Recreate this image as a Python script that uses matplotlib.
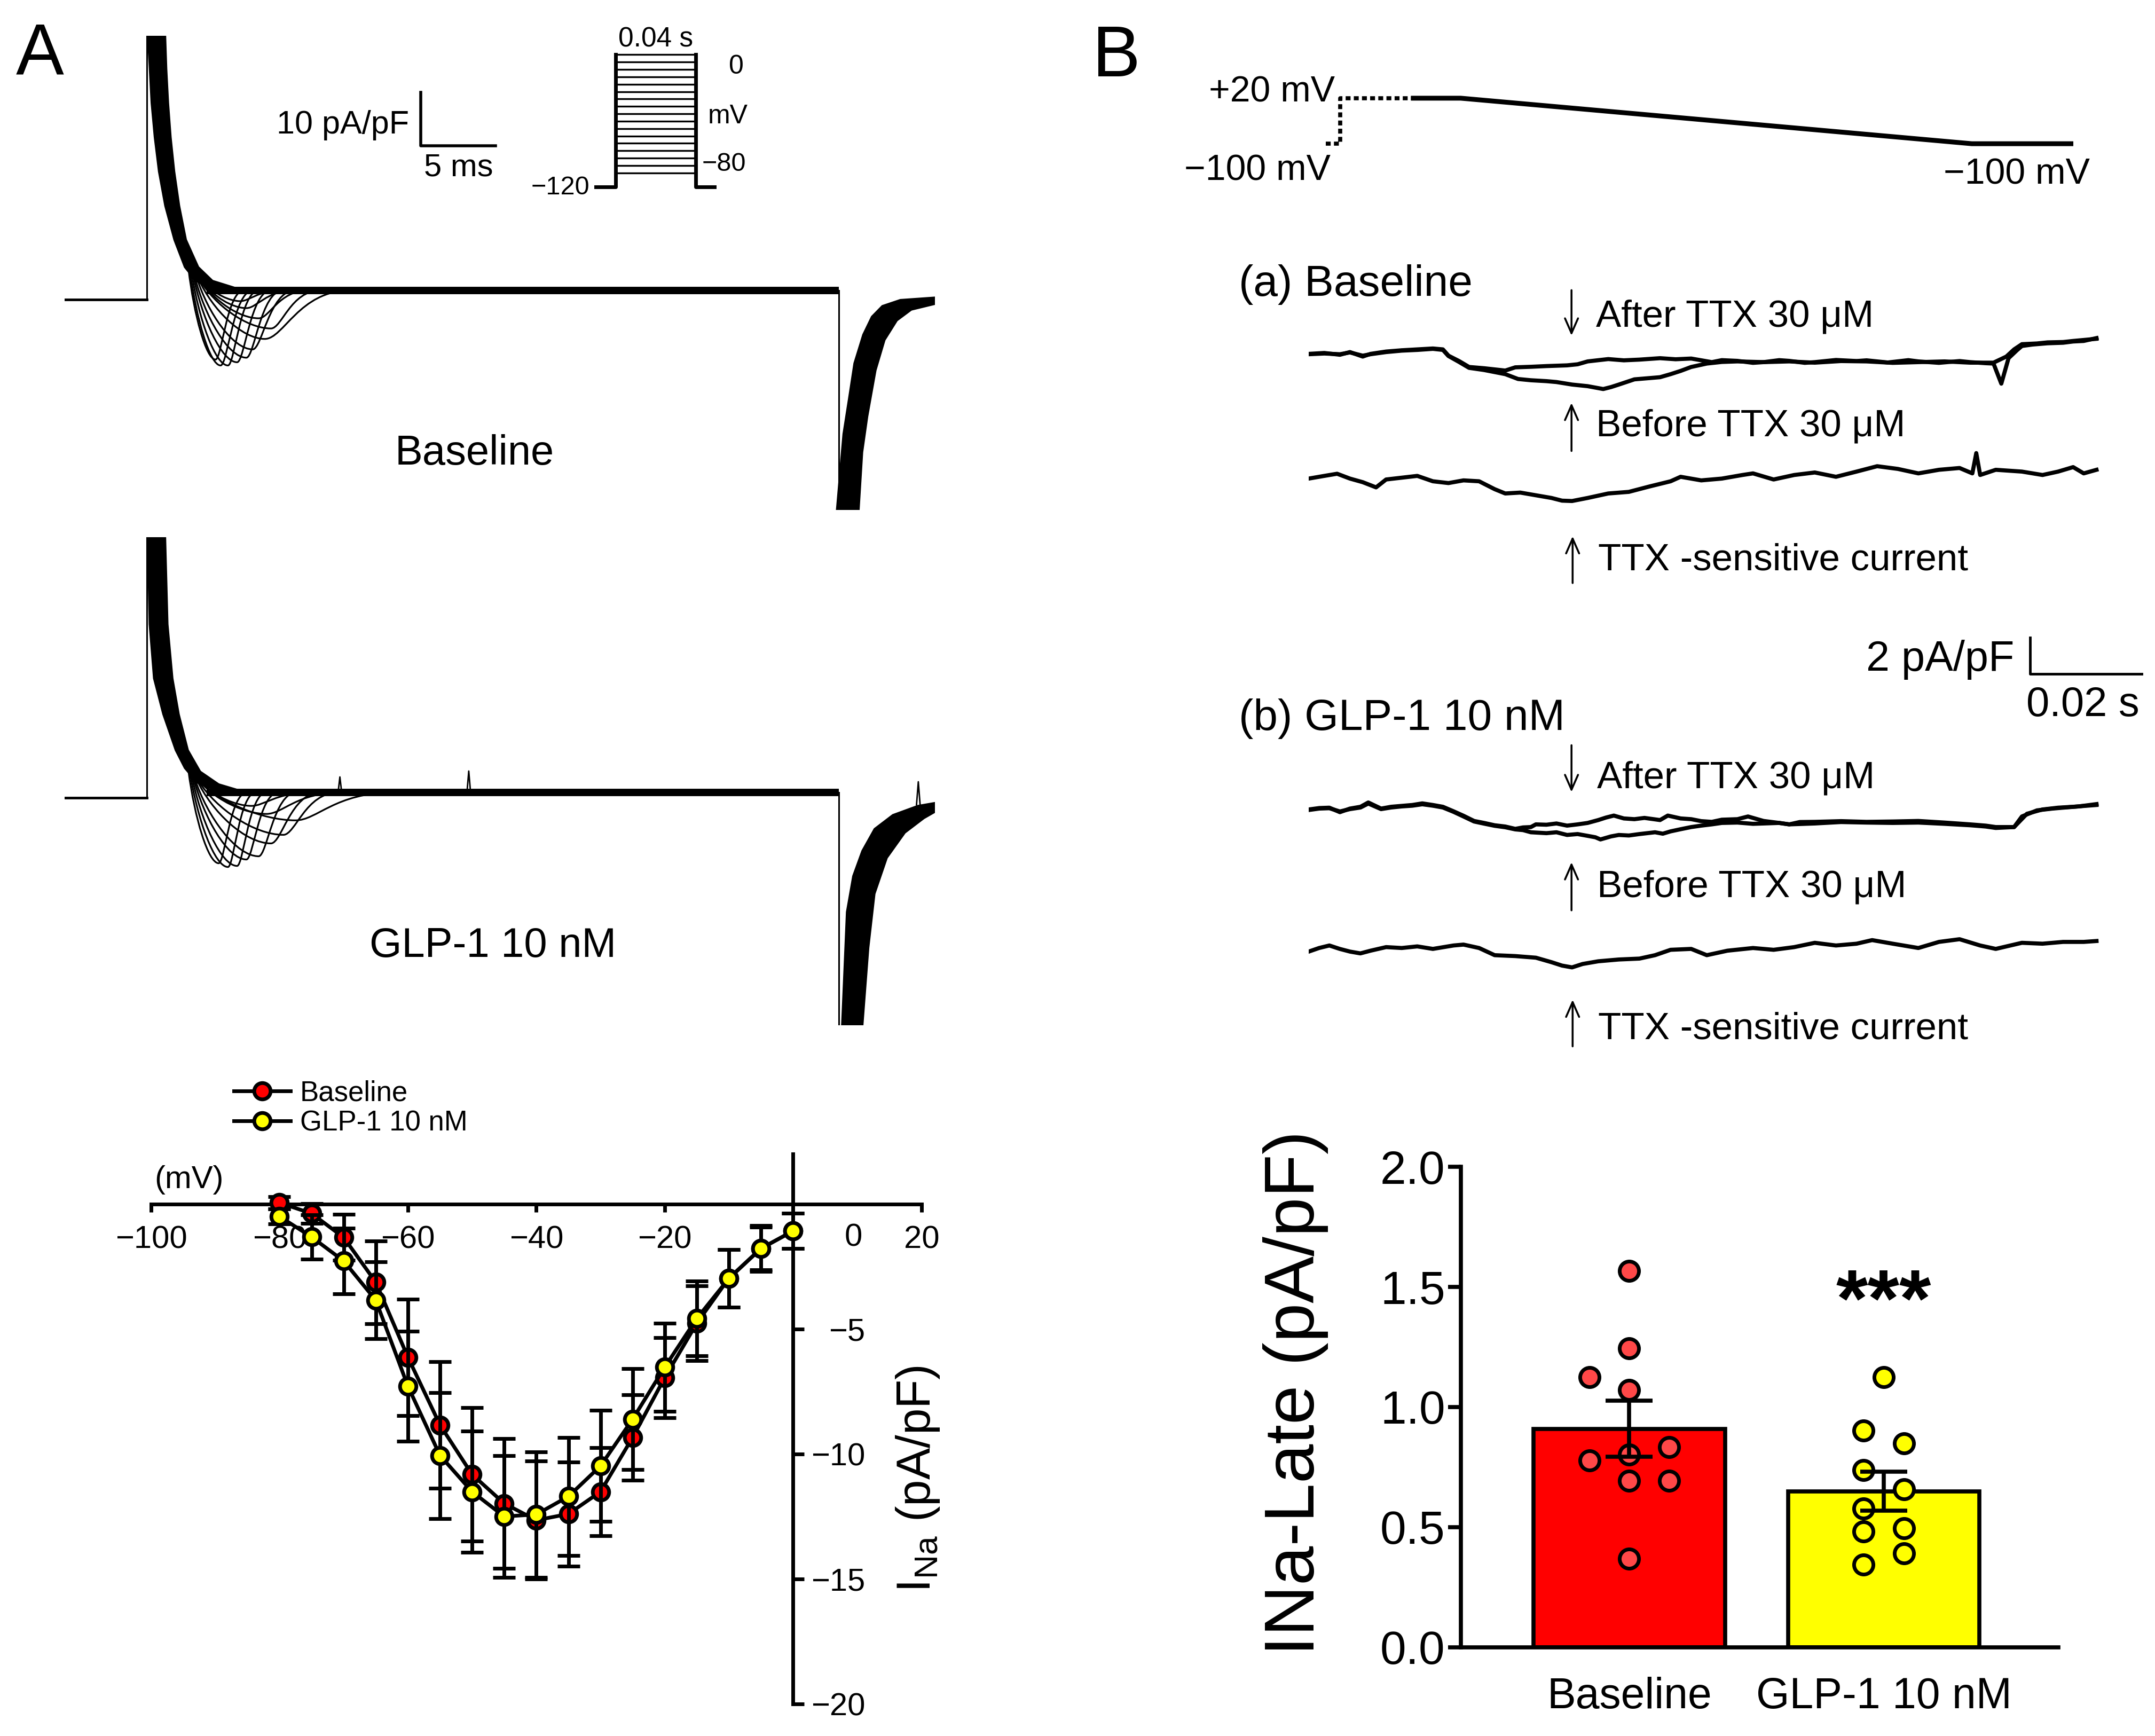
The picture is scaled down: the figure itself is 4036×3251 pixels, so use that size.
import numpy as np
import matplotlib
matplotlib.use("Agg")
import matplotlib.pyplot as plt
from matplotlib.path import Path
from matplotlib.patches import PathPatch
from matplotlib.lines import Line2D

plt.rcParams['font.family'] = ['Liberation Sans', 'DejaVu Sans']
plt.rcParams['mathtext.fontset'] = 'custom'
plt.rcParams['mathtext.rm'] = 'Liberation Sans'
plt.rcParams['mathtext.it'] = 'Liberation Sans:italic'

RED = '#ff0000'
YEL = '#ffff00'
DOT_RED = '#ff4848'

################################################################################
# Data
################################################################################

# --- A: step family (time in ms from step onset, current in pA/pF) ---
STEP_END = 46.2
base_hold = -1.7
base_band_t = [0.08, 0.21, 0.33, 0.54, 0.82, 1.24, 1.85, 2.55, 3.29, 4.6,
               6.46, 4.40, 3.45, 2.63, 2.18, 1.85, 1.61, 1.44, 1.32, 1.24]
base_band_i = [48.0, 41.4, 35.0, 28.6, 22.2, 15.8, 9.46, 4.36, 1.8, 0.0,
               0.0, 1.8, 4.36, 9.46, 15.8, 22.2, 28.6, 35.0, 41.4, 48.0]
base_dep_t = [2.8, 2.9, 3.0, 3.1, 3.2, 3.35, 3.5, 3.6, 3.75, 3.9, 4.1]
base_dep_i = [3.9, 3.6, 3.3, 3.0, 2.7, 2.4, 2.0, 1.8, 1.5, 1.2, 0.9]
base_pk_t = [4.6, 4.94, 5.43, 6.04, 6.66, 7.08, 7.89, 8.3, 7.48, 6.66, 6.25]
base_pk_i = [-12.9, -14.0, -14.0, -13.4, -12.55, -11.0, -9.05, -7.1, -5.2, -3.3, -2.0]
base_ret_t = [6.5, 7.1, 7.5, 8.3, 9.1, 9.9, 13.6, 11.6, 10.8, 9.9, 9.1]
base_tail_t = [46.03, 46.5, 46.87, 47.23, 47.82, 48.4, 49.1, 50.3, 52.8,
               52.8, 51.03, 50.07, 49.25, 48.65, 48.1, 47.76, 47.5]
base_tail_i = [-42.0, -26.8, -20.2, -13.6, -8.26, -4.9, -2.9, -1.77, -1.28,
               -2.4, -3.6, -5.6, -9.25, -14.9, -23.5, -30.2, -42.0]

glp_hold = -1.0
glp_band_t = [0.08, 0.2, 0.49, 1.11, 1.94, 2.55, 3.37, 5.02,
              6.66, 4.81, 3.58, 2.76, 2.15, 1.73, 1.4, 1.24]
glp_band_i = [48.0, 31.4, 21.3, 14.6, 7.9, 4.56, 1.87, 0.0,
              0.0, 1.54, 3.9, 7.9, 14.6, 21.3, 31.4, 48.0]
glp_dep_t = [2.8, 2.9, 3.0, 3.1, 3.2, 3.35, 3.5, 3.65, 3.8, 4.0]
glp_dep_i = [3.9, 3.6, 3.3, 3.0, 2.7, 2.4, 2.0, 1.7, 1.4, 1.1]
glp_pk_t = [4.81, 5.43, 6.04, 6.66, 7.48, 8.3, 9.13, 9.94, 8.0, 7.0]
glp_pk_i = [-13.2, -13.9, -13.7, -12.5, -11.9, -9.5, -7.9, -5.2, -4.0, -2.5]
glp_ret_t = [6.7, 7.3, 8.0, 8.8, 10.0, 11.6, 12.8, 16.5, 13.0, 11.0]
glp_tail_t = [46.4, 46.73, 47.15, 47.76, 48.58, 49.8, 51.46, 52.9,
              52.9, 51.87, 50.6, 49.4, 48.58, 48.17, 47.76]
glp_tail_i = [-44.0, -22.3, -15.6, -10.9, -6.8, -4.2, -2.5, -1.8,
              -3.15, -4.8, -7.5, -12.2, -18.9, -28.97, -44.0]
glp_spike_t = [12.9, 21.5, 51.5]
glp_spike_base = [0.0, 0.0, -2.3]
glp_spike_i = [2.9, 4.0, 2.0]

# --- A: voltage protocol (mV, ms) ---
step_levels = [-80, -75, -70, -65, -60, -55, -50, -45, -40, -35,
               -30, -25, -20, -15, -10, -5, 0]
step_on, step_off = 0, 40
hold_from, hold_to = -9.9, 49.5
HOLD_DRAW = -89.3  # -120 mV holding, drawn compressed

# --- A: I-V relation ---
iv_mv = [-80, -75, -70, -65, -60, -55, -50, -45, -40, -35,
         -30, -25, -20, -15, -10, -5, 0]
iv_base = [0.05, -0.38, -1.34, -3.13, -6.13, -8.84, -10.82, -11.98, -12.65,
           -12.40, -11.51, -9.34, -6.95, -4.77, -2.97, -1.78, -1.08]
iv_base_sem = [0.25, 0.40, 0.92, 1.66, 2.33, 2.53, 2.67, 2.60, 2.36,
               2.08, 1.77, 1.70, 1.61, 1.50, 1.15, 0.85, 0.71]
iv_glp = [-0.50, -1.32, -2.28, -3.85, -7.29, -10.06, -11.51, -12.50, -12.42,
          -11.70, -10.48, -8.61, -6.53, -4.58, -2.98, -1.78, -1.08]
iv_glp_sem = [0.30, 0.88, 1.31, 1.54, 2.20, 2.52, 2.43, 2.43, 2.51,
              2.36, 2.22, 2.02, 1.77, 1.49, 1.15, 0.92, 0.71]

# --- B: ramp protocol (ms, mV) ---
ramp_dot_t = [3.1, 5.7, 5.7, 18.5]
ramp_dot_v = [-100, -100, 20, 20]
ramp_t = [18.8, 27.3, 119.1, 136.9]
ramp_v = [20, 20, -100, -100]

# --- B: late current traces (ms, pA/pF relative to start) ---
a_after_t = [0, 2.8, 5.6, 7.4, 9.7, 11.1, 13.9, 16.7, 19.5, 22.3, 24.1, 25.1, 27.0, 28.8,
             31.5, 35.3, 37.1, 39.9, 42.7, 46.4, 48.3, 50.1, 53.8, 56.6, 59.4, 63.1, 65.9,
             68.7, 72.4, 74.2, 77.0, 79.8, 81.7, 84.5, 86.3, 89.1, 90.9, 94.7, 98.4, 100.2,
             104.0, 107.7, 109.5, 113.2, 116.9, 118.8, 121.6, 123.0, 124.4, 125.7, 127.2,
             128.1, 130.0, 132.7, 135.5, 137.3, 139.2, 141.5]
a_after_i = [-0.10, -0.05, -0.15, 0.0, -0.25, -0.10, 0.03, 0.10, 0.15, 0.20, 0.15, -0.20,
             -0.50, -0.83, -0.90, -1.03, -0.85, -0.82, -0.78, -0.74, -0.68, -0.52, -0.39,
             -0.46, -0.42, -0.34, -0.40, -0.36, -0.56, -0.45, -0.49, -0.60, -0.56, -0.45,
             -0.49, -0.60, -0.56, -0.44, -0.50, -0.46, -0.58, -0.45, -0.52, -0.60, -0.50,
             -0.56, -0.62, -0.64, -1.76, -0.34, 0.10, 0.34, 0.42, 0.49, 0.52, 0.59, 0.62, 0.78]
a_before_t = [0, 2.8, 5.6, 7.4, 9.7, 11.1, 13.9, 16.7, 19.5, 22.3, 24.1, 25.1, 27.0, 28.8,
              31.5, 35.3, 37.6, 39.9, 42.7, 44.5, 47.3, 50.1, 52.9, 54.3, 55.7, 58.5, 61.2,
              63.1, 65.0, 66.8, 68.7, 71.5, 74.2, 77.0, 81.7, 86.3, 90.9, 95.6, 100.2, 104.9,
              109.5, 114.2, 118.8, 123.0, 125.3, 126.7, 128.1, 130.8, 132.7, 135.5, 137.3, 141.5]
a_before_i = [-0.12, -0.08, -0.12, -0.02, -0.20, -0.12, 0.0, 0.08, 0.12, 0.18, 0.12, -0.22,
              -0.55, -0.88, -1.00, -1.23, -1.50, -1.57, -1.62, -1.67, -1.81, -1.90, -2.06,
              -1.95, -1.81, -1.52, -1.45, -1.40, -1.23, -1.05, -0.83, -0.64, -0.55, -0.52,
              -0.56, -0.52, -0.59, -0.50, -0.52, -0.60, -0.56, -0.52, -0.59, -0.59, -0.25,
              0.15, 0.44, 0.48, 0.54, 0.56, 0.62, 0.74]
a_ttx_t = [0, 2.8, 5.1, 7.4, 9.7, 12.1, 13.9, 16.7, 19.5, 22.3, 25.1, 27.8, 30.6, 33.4,
           35.3, 38.0, 40.8, 43.6, 45.5, 47.3, 50.1, 53.8, 57.5, 61.2, 65.0, 66.8, 70.5,
           74.2, 77.9, 79.8, 83.5, 87.2, 90.9, 94.7, 98.4, 102.1, 105.8, 109.5, 113.2,
           116.9, 119.2, 119.9, 120.6, 123.4, 128.1, 131.8, 134.6, 137.3, 139.2, 141.5]
a_ttx_i = [0, 0.15, 0.27, 0, -0.20, -0.49, -0.05, 0.05, 0.15, -0.15, -0.25, -0.10, -0.15,
           -0.59, -0.83, -0.78, -0.93, -1.08, -1.23, -1.25, -1.08, -0.83, -0.74, -0.44,
           -0.15, 0.10, -0.10, 0, 0.20, 0.29, -0.05, 0.20, 0.34, 0.10, 0.39, 0.69, 0.54,
           0.29, 0.49, 0.59, 0.29, 1.42, 0.20, 0.49, 0.39, 0.20, 0.39, 0.64, 0.29, 0.49]

b_after_t = [0, 1.9, 3.7, 5.6, 7.4, 9.3, 10.7, 13.0, 14.8, 16.7, 18.6, 20.4, 22.3, 24.1,
             26.0, 27.8, 29.7, 31.5, 33.4, 35.3, 37.1, 38.5, 39.9, 40.8, 42.7, 44.5, 46.4,
             48.3, 50.1, 52.0, 53.4, 54.8, 56.6, 58.5, 60.3, 63.1, 64.5, 66.8, 68.7, 70.5,
             72.4, 74.2, 77.0, 78.9, 81.7, 84.5, 86.3, 88.2, 90.9, 95.6, 100.2, 104.9,
             109.5, 114.2, 118.8, 121.6, 123.4, 126.7, 128.1, 130.8, 133.6, 135.5, 138.3, 141.5]
b_after_i = [-0.05, 0.03, 0.05, -0.20, 0.0, 0.10, 0.34, 0.0, 0.10, 0.15, 0.20, 0.29, 0.20,
             0.10, -0.15, -0.40, -0.69, -0.80, -0.93, -1.00, -1.13, -1.05, -1.03, -0.88,
             -0.90, -0.83, -0.95, -0.88, -0.80, -0.64, -0.50, -0.39, -0.55, -0.59, -0.52,
             -0.64, -0.39, -0.55, -0.59, -0.70, -0.74, -0.62, -0.59, -0.44, -0.69, -0.80,
             -0.88, -0.75, -0.74, -0.70, -0.74, -0.72, -0.69, -0.78, -0.88, -0.95, -1.03,
             -1.03, -0.44, -0.10, 0.0, 0.05, 0.12, 0.25]
b_before_t = [0, 1.9, 3.7, 5.6, 7.4, 9.3, 10.7, 13.0, 14.8, 16.7, 18.6, 20.4, 22.3, 24.1,
              26.0, 27.8, 29.7, 31.5, 33.4, 35.3, 37.1, 38.5, 39.9, 42.7, 44.5, 46.4, 48.3,
              50.1, 51.5, 52.4, 54.3, 55.7, 57.5, 59.4, 62.2, 63.6, 65.0, 66.8, 68.7, 70.5,
              72.4, 74.2, 77.0, 79.8, 81.7, 84.5, 86.3, 90.9, 95.6, 100.2, 104.9, 109.5,
              114.2, 118.8, 121.6, 123.4, 126.7, 129.0, 131.8, 134.6, 137.3, 141.5]
b_before_i = [-0.08, 0.0, 0.02, -0.16, -0.03, 0.06, 0.28, -0.03, 0.06, 0.12, 0.16, 0.24,
              0.16, 0.06, -0.18, -0.44, -0.72, -0.84, -0.96, -1.04, -1.16, -1.20, -1.32,
              -1.37, -1.32, -1.47, -1.42, -1.52, -1.60, -1.72, -1.55, -1.47, -1.50, -1.42,
              -1.32, -1.40, -1.27, -1.15, -1.03, -0.95, -0.88, -0.80, -0.78, -0.85, -0.83,
              -0.80, -0.88, -0.83, -0.75, -0.78, -0.80, -0.78, -0.85, -0.93, -1.00, -1.08,
              -1.03, -0.29, -0.05, 0.05, 0.10, 0.20]
b_ttx_t = [0, 1.86, 3.71, 5.57, 7.42, 9.28, 11.1, 13.9, 16.7, 19.5, 22.3, 26.0, 27.8,
           30.6, 33.4, 37.1, 40.8, 43.6, 45.5, 47.3, 49.2, 52.0, 55.7, 59.4, 62.2, 65.0,
           68.7, 71.5, 75.2, 79.8, 83.5, 87.2, 90.9, 94.7, 98.4, 101.2, 104.9, 109.5,
           113.2, 116.9, 120.6, 123.4, 128.1, 131.8, 135.5, 139.2, 141.5]
b_ttx_i = [0, 0.20, 0.34, 0.15, 0, -0.10, 0.05, 0.25, 0.20, 0.29, 0.15, 0.34, 0.39, 0.20,
           -0.20, -0.25, -0.34, -0.59, -0.78, -0.88, -0.69, -0.54, -0.44, -0.39, -0.20,
           0.10, 0.15, -0.20, 0.05, 0.20, 0.10, 0.25, 0.49, 0.34, 0.44, 0.64, 0.44, 0.20,
           0.54, 0.69, 0.34, 0.15, 0.49, 0.44, 0.54, 0.54, 0.59]

# --- B: late sodium current summary ---
late_groups = ['Baseline', 'GLP-1 10 nM']
late_mean = [0.909, 0.649]
late_sem = [0.117, 0.081]
late_base_pts = [1.567, 1.244, 1.125, 1.071, 0.833, 0.777, 0.802, 0.692, 0.692, 0.369]
late_glp_pts = [1.125, 0.901, 0.848, 0.7375, 0.658, 0.578, 0.4826, 0.496, 0.391, 0.343]
late_sig = '***'

################################################################################
# Layout helpers (positions measured on a 1568 x 1262.5 view of the figure)
################################################################################
VW, VH = 1568.0, 1262.5

def rect(x0, y0, x1, y1):
    return [x0 / VW, 1 - y1 / VH, (x1 - x0) / VW, (y1 - y0) / VH]

def fpt(x, y):
    return x / VW, 1 - y / VH

fig = plt.figure(figsize=(40.37, 32.51), dpi=100)

################################################################################
# Panel A: step families
################################################################################
def dip_path(t0, i0, tp, ip, tr):
    d1 = tp - t0
    d2 = tr - tp
    verts = [(t0, i0), (t0 + 0.2 * d1, i0 + 0.5 * (ip - i0)), (tp - 0.35 * d1, ip), (tp, ip),
             (tp + 0.22 * d2, ip), (tp + 0.4 * d2, 0.0), (tr, 0.0)]
    codes = [Path.MOVETO] + [Path.CURVE4] * 6
    return Path(verts, codes)

def draw_family(ax, hold, band_t, band_i, dep_t, dep_i, pk_t, pk_i, ret_t, tail_t, tail_i):
    lo, hi = ax.get_ylim()
    x0 = ax.get_xlim()[0]
    ax.plot([x0, 0], [hold, hold], color='k', lw=3.5)
    ax.plot([0, 0], [hold, hi + 2], color='k', lw=2.2)
    ax.fill(band_t, band_i, color='k', lw=2.5)
    ax.plot([4.0, STEP_END], [0, 0], color='k', lw=10, solid_capstyle='butt')
    ax.plot([STEP_END, STEP_END], [0, lo - 2], color='k', lw=2.2)
    ax.fill(tail_t, tail_i, color='k', lw=2.5)
    for k in range(len(pk_t)):
        p = dip_path(dep_t[k], dep_i[k], pk_t[k], pk_i[k], ret_t[k])
        ax.add_patch(PathPatch(p, fill=False, ec='k', lw=2.3))

ax_a1 = fig.add_axes(rect(47, 26.1, 680, 371))
ax_a1.set_xlim(-5.47, 52.6)
ax_a1.set_ylim(-41, 47.5)
ax_a1.axis('off')
draw_family(ax_a1, base_hold, base_band_t, base_band_i, base_dep_t, base_dep_i,
            base_pk_t, base_pk_i, base_ret_t, base_tail_t, base_tail_i)
# scale bar 10 pA/pF, 5 ms
ax_a1.plot([18.3, 18.3, 23.3], [37.0, 27.0, 27.0], color='k', lw=4)
ax_a1.text(17.5, 30.8, '10 pA/pF', ha='right', va='center', fontsize=44)
ax_a1.text(20.8, 22.9, '5 ms', ha='center', va='center', fontsize=43)
ax_a1.text(21.9, -30.5, 'Baseline', ha='center', va='center', fontsize=56)

ax_a2 = fig.add_axes(rect(47, 390.8, 680, 745.5))
ax_a2.set_xlim(-5.47, 52.6)
ax_a2.set_ylim(-43.4, 47.6)
ax_a2.axis('off')
draw_family(ax_a2, glp_hold, glp_band_t, glp_band_i, glp_dep_t, glp_dep_i,
            glp_pk_t, glp_pk_i, glp_ret_t, glp_tail_t, glp_tail_i)
for t, b, p in zip(glp_spike_t, glp_spike_base, glp_spike_i):
    ax_a2.plot([t - 0.12, t, t + 0.12], [b, p, b], color='k', lw=2)
ax_a2.text(23.1, -28.6, 'GLP-1 10 nM', ha='center', va='center', fontsize=56)

# protocol inset
ax_ap = fig.add_axes(rect(420, 30, 530, 145))
ax_ap.set_xlim(-19.3, 56.6)
ax_ap.set_ylim(-97.9, 9.1)
ax_ap.axis('off')
for v in step_levels:
    ax_ap.plot([step_on, step_off], [v, v], color='k', lw=2.4)
ax_ap.plot([hold_from, step_on, step_on], [HOLD_DRAW, HOLD_DRAW, 0], color='k', lw=5)
ax_ap.plot([step_off, step_off, hold_to], [0, HOLD_DRAW, HOLD_DRAW], color='k', lw=5)
ax_ap.text(20, 10.4, '0.04 s', ha='center', va='center', fontsize=37)
ax_ap.text(56.6, -8.2, '0', ha='left', va='center', fontsize=36)
ax_ap.text(46.2, -41.8, 'mV', ha='left', va='center', fontsize=36)
ax_ap.text(43.2, -74.2, '\u221280', ha='left', va='center', fontsize=35)
ax_ap.text(-13.1, -89.9, '\u2212120', ha='right', va='center', fontsize=35)

################################################################################
# Panel A: I-V curve
################################################################################
ax_iv = fig.add_axes([0.0701, 0.01846, 0.3574, 0.3168])
ax_iv.set_xlim(-100, 20)
ax_iv.set_ylim(-20, 2)
iv_style = dict(fmt='-o', color='k', lw=5, ms=22, mec='k', mew=5, ecolor='k',
                elinewidth=5, capsize=15, capthick=5, clip_on=False)
ax_iv.errorbar(iv_mv, iv_base, yerr=iv_base_sem, mfc=RED, zorder=3, **iv_style)
ax_iv.errorbar(iv_mv, iv_glp, yerr=iv_glp_sem, mfc=YEL, zorder=4, **iv_style)
for s in ['left', 'top']:
    ax_iv.spines[s].set_visible(False)
ax_iv.spines['bottom'].set_position(('data', 0))
ax_iv.spines['right'].set_position(('data', 0))
for s in ['bottom', 'right']:
    ax_iv.spines[s].set_linewidth(5)
ax_iv.yaxis.set_ticks_position('right')
ax_iv.set_xticks([-100, -80, -60, -40, -20, 0, 20])
ax_iv.set_xticklabels(['\u2212100', '\u221280', '\u221260', '\u221240', '\u221220', '', '20'])
ax_iv.set_yticks([-20, -15, -10, -5])
ax_iv.set_yticklabels(['\u221220', '\u221215', '\u221210', '\u22125'])
ax_iv.tick_params(axis='x', direction='out', length=11, width=5, pad=18, labelsize=43)
ax_iv.tick_params(axis='y', direction='out', length=15, width=5, pad=82, labelsize=43)
for lab in ax_iv.get_yticklabels():
    lab.set_horizontalalignment('right')
ax_iv.annotate('0', xy=(0, 0), xytext=(81, -26), textcoords='offset points',
               ha='center', va='top', fontsize=43)
ax_iv.text(-94.1, 0.96, '(mV)', ha='center', va='center', fontsize=43)
ax_iv.text(19.4, -11.0, r'I$_{\rm Na}$ (pA/pF)', rotation=90, ha='center', va='center',
           fontsize=64)
handles = [Line2D([], [], color='k', lw=5, marker='o', ms=22, mfc=c, mec='k', mew=5)
           for c in (RED, YEL)]
ax_iv.legend(handles, ['Baseline', 'GLP-1 10 nM'], loc='upper left',
             bbox_to_anchor=(0.1085, 0.378), bbox_transform=fig.transFigure,
             frameon=False, fontsize=38, handlelength=2.0, handletextpad=0.35,
             labelspacing=0.12, borderpad=0, borderaxespad=0)

################################################################################
# Panel B: ramp protocol and late current traces
################################################################################
ax_bp = fig.add_axes(rect(952, 40, 1568, 140))
ax_bp.set_xlim(0, 152.1)
ax_bp.set_ylim(-228.6, 133.8)
ax_bp.axis('off')
ax_bp.plot(ramp_dot_t, ramp_dot_v, color='k', lw=5.5, ls=(0, (1.2, 0.8)))
ax_bp.plot(ramp_t, ramp_v, color='k', lw=6.5, solid_joinstyle='miter')
ax_bp.text(4.7, 35.9, '+20 mV', ha='right', va='center', fontsize=49)
ax_bp.text(3.95, -170.6, '\u2212100 mV', ha='right', va='center', fontsize=49)
ax_bp.text(127.2, -180.4, '\u2212100 mV', ha='center', va='center', fontsize=49)

ax_bt = fig.add_axes(rect(952, 160, 1568, 780))
ax_bt.set_xlim(0, 152.1)
ax_bt.set_ylim(0, 47.51)
ax_bt.axis('off')
OFF_A, OFF_A_TTX, OFF_B, OFF_B_TTX = 40.15, 33.1, 14.71, 6.74
trace_kw = dict(color='k', lw=5.5, solid_joinstyle='round')
ax_bt.plot(a_before_t, np.array(a_before_i) + OFF_A, **trace_kw)
ax_bt.plot(a_after_t, np.array(a_after_i) + OFF_A, **trace_kw)
ax_bt.plot(a_ttx_t, np.array(a_ttx_i) + OFF_A_TTX, **trace_kw)
ax_bt.plot(b_before_t, np.array(b_before_i) + OFF_B, **trace_kw)
ax_bt.plot(b_after_t, np.array(b_after_i) + OFF_B, **trace_kw)
ax_bt.plot(b_ttx_t, np.array(b_ttx_i) + OFF_B_TTX, **trace_kw)

arrow_kw = dict(arrowstyle='->,head_length=0.5,head_width=0.22', lw=2.6, color='k',
                shrinkA=0, shrinkB=0, mutation_scale=40)
def arrow(x, y_tail, y_head):
    ax_bt.annotate('', xy=(x, y_head), xytext=(x, y_tail), arrowprops=arrow_kw)

fs_b = 51
ax_bt.text(-12.6, 43.9, '(a) Baseline', ha='left', va='center', fontsize=59)
arrow(47.2, 43.6, 41.07)
ax_bt.text(51.6, 42.12, 'After TTX 30 \u03bcM', ha='left', va='center', fontsize=fs_b)
arrow(47.2, 34.64, 37.32)
ax_bt.text(51.6, 36.0, 'Before TTX 30 \u03bcM', ha='left', va='center', fontsize=fs_b)
arrow(47.4, 27.28, 29.89)
ax_bt.text(52.0, 28.54, 'TTX -sensitive current', ha='left', va='center', fontsize=fs_b)

ax_bt.text(-12.6, 19.73, '(b) GLP-1 10 nM', ha='left', va='center', fontsize=59)
arrow(47.2, 18.24, 15.63)
ax_bt.text(51.8, 16.4, 'After TTX 30 \u03bcM', ha='left', va='center', fontsize=fs_b)
arrow(47.2, 9.04, 11.72)
ax_bt.text(51.8, 10.34, 'Before TTX 30 \u03bcM', ha='left', va='center', fontsize=fs_b)
arrow(47.4, 1.46, 4.06)
ax_bt.text(52.0, 2.42, 'TTX -sensitive current', ha='left', va='center', fontsize=fs_b)

# scale bar 2 pA/pF, 0.02 s
ax_bt.plot([129.6, 129.6, 149.6], [24.23, 22.23, 22.23], color='k', lw=3.5)
ax_bt.text(126.7, 22.99, '2 pA/pF', ha='right', va='center', fontsize=57)
ax_bt.text(139.0, 20.46, '0.02 s', ha='center', va='center', fontsize=56)

################################################################################
# Panel B: late current bar chart
################################################################################
ax_b = fig.add_axes([0.6777, 0.05115, 0.2772, 0.2767])
xb = np.arange(len(late_groups))
ax_b.bar(xb, late_mean, width=0.752, color=[RED, YEL], edgecolor='k', linewidth=5.5, zorder=2)
jit_base = [0, 0, -0.157, 0, 0.157, -0.157, 0, 0, 0.157, 0]
jit_glp = [0, -0.08, 0.08, -0.08, 0.08, -0.08, -0.08, 0.08, 0.08, -0.08]
ax_b.plot(xb[0] + np.array(jit_base), late_base_pts, 'o', ms=26, mfc=DOT_RED, mec='k',
          mew=5, zorder=3, ls='none')
ax_b.plot(xb[1] + np.array(jit_glp), late_glp_pts, 'o', ms=26, mfc=YEL, mec='k',
          mew=5, zorder=3, ls='none')
ax_b.errorbar(xb, late_mean, yerr=late_sem, fmt='none', ecolor='k', elinewidth=5.5,
              capsize=32, capthick=5.5, zorder=4)
ax_b.text(xb[1], late_mean[1] + 0.775, late_sig, ha='center', va='center', fontsize=110,
          fontweight='bold')
ax_b.set_xlim(-0.662, 1.686)
ax_b.set_ylim(0, 2.0)
for s in ['top', 'right']:
    ax_b.spines[s].set_visible(False)
for s in ['left', 'bottom']:
    ax_b.spines[s].set_linewidth(5.5)
ax_b.set_yticks([0, 0.5, 1.0, 1.5, 2.0])
ax_b.set_yticklabels(['0.0', '0.5', '1.0', '1.5', '2.0'])
ax_b.set_xticks(xb)
ax_b.set_xticklabels(late_groups)
ax_b.tick_params(axis='y', direction='out', length=17, width=5.5, pad=4, labelsize=63)
ax_b.tick_params(axis='x', length=0, pad=40, labelsize=58)
ax_b.text(-0.2763, 0.529, 'INa-Late (pA/pF)', rotation=90, ha='center', va='center',
          fontsize=95, transform=ax_b.transAxes)

################################################################################
# Panel letters
################################################################################
fig.text(*fpt(29, 40), 'A', ha='center', va='center', fontsize=97)
fig.text(*fpt(812, 42), 'B', ha='center', va='center', fontsize=97)

fig.savefig('out.png', dpi=100)
